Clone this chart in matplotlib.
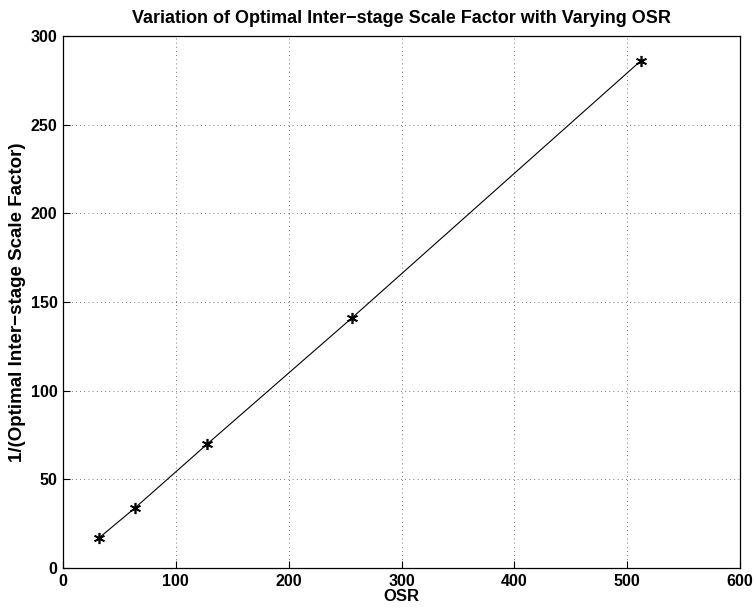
import matplotlib
matplotlib.use("Agg")
import matplotlib.pyplot as plt

osr = [32, 64, 128, 256, 512]
inv_scale = [17, 34, 70, 141, 286]

x_ticks = [0, 100, 200, 300, 400, 500, 600]
y_ticks = [0, 50, 100, 150, 200, 250, 300]

plt.rcParams["font.family"] = ["Liberation Sans", "DejaVu Sans"]
plt.rcParams["font.weight"] = "bold"

fig = plt.figure(figsize=(7.56, 6.15), dpi=100)
ax = fig.add_axes([0.0833, 0.0764, 0.8957, 0.8651])

# MATLAB-style '*' marker: six-armed asterisk
ax.plot(osr, inv_scale, color="black", lw=0.8, marker=(6, 2, 0), ms=8,
        mew=1.2, mec="black", mfc="black")

ax.set_xlim(0, 600)
ax.set_ylim(0, 300)
ax.set_xticks(x_ticks)
ax.set_yticks(y_ticks)
ax.tick_params(direction="in", length=5, width=0.8, labelsize=11.5, pad=4)
for lab in ax.get_xticklabels() + ax.get_yticklabels():
    lab.set_fontweight("bold")
ax.grid(True, linestyle=(0, (1, 4)), color="black", lw=0.6, alpha=0.7)
for sp in ax.spines.values():
    sp.set_linewidth(0.9)

ax.set_xlabel("OSR", fontsize=12, fontweight="bold", labelpad=0)
ax.set_ylabel("1/(Optimal Inter\u2212stage Scale Factor)", fontsize=13.5,
              fontweight="bold", labelpad=3)
ax.set_title("Variation of Optimal Inter\u2212stage Scale Factor with Varying OSR",
             fontsize=13, fontweight="bold", pad=9)

fig.savefig("out.png", dpi=100)
